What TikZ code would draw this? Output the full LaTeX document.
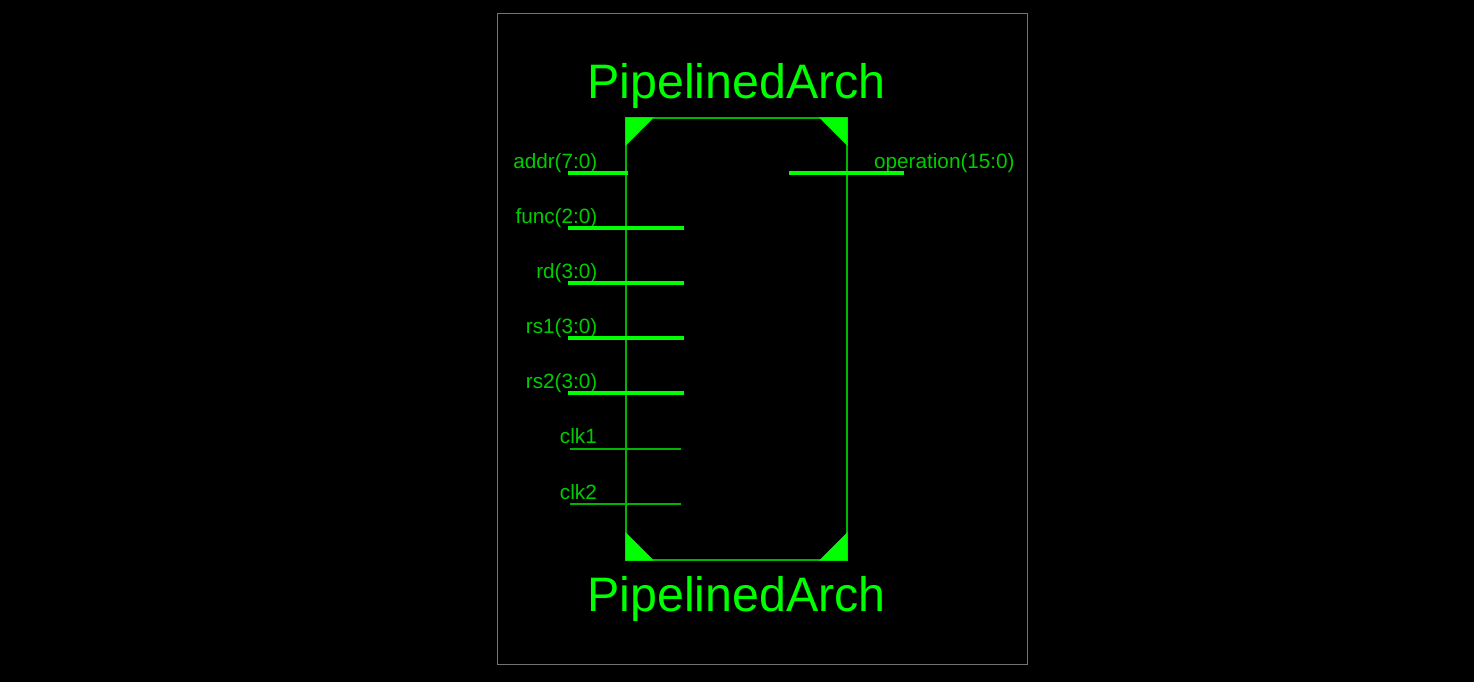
\documentclass[tikz,border=0pt]{standalone}
\usepackage{fontspec}
\setmainfont{Liberation Sans}
\definecolor{bright}{RGB}{0,255,0}
\definecolor{labelg}{RGB}{0,205,0}
\definecolor{edgeg}{RGB}{0,180,0}
\definecolor{frameg}{RGB}{115,115,115}
\tikzset{
  frame/.style={draw=frameg,line width=1pt,inner sep=0pt,minimum width=530pt,minimum height=650pt},
  block/.style={draw=edgeg,line width=1.2pt,inner sep=0pt,minimum width=221pt,minimum height=442pt},
  title/.style={text=bright,font=\fontsize{48.4}{50}\selectfont,anchor=base,inner sep=0pt},
  plabel/.style={text=labelg,font=\fontsize{20.7}{22}\selectfont,inner sep=0pt},
  bus/.style={draw=bright,line width=4pt},
  wire/.style={draw=edgeg,line width=1.3pt},
  corner/.style={fill=bright,draw=none}
}
\begin{document}
\begin{tikzpicture}[x=1pt,y=-1pt]
\useasboundingbox[fill=black] (0,0) rectangle (1474,682);
\node[frame] (fr) at (762,339) {};
\node[block] (b) at (736.5,339) {};
\node[title] (t1) at (736.5,99) {PipelinedArch};
\node[title] (t2) at (736.5,611) {PipelinedArch};
\fill[corner] (b.north west) -- ++(28.5,0) -- ++(-28.5,28.5) -- cycle;
\fill[corner] (b.north east) -- ++(-28.5,0) -- ++(28.5,28.5) -- cycle;
\fill[corner] (b.south west) -- ++(28.5,0) -- ++(-28.5,-28.5) -- cycle;
\fill[corner] (b.south east) -- ++(-28.5,0) -- ++(28.5,-28.5) -- cycle;
\node[plabel,anchor=base east] (l1) at (597.5,168) {addr(7:0)};
\node[plabel,anchor=base east] (l2) at (597.5,223) {func(2:0)};
\node[plabel,anchor=base east] (l3) at (597.5,278) {rd(3:0)};
\node[plabel,anchor=base east] (l4) at (597.5,333) {rs1(3:0)};
\node[plabel,anchor=base east] (l5) at (597.5,388) {rs2(3:0)};
\node[plabel,anchor=base east] (l6) at (597,443) {clk1};
\node[plabel,anchor=base east] (l7) at (597,499) {clk2};
\node[plabel,anchor=base west] (l8) at (874,168) {operation(15:0)};
\coordinate (a1) at (568,173); \coordinate (a2) at (627.5,173);
\coordinate (f1) at (568,228); \coordinate (f2) at (684,228);
\coordinate (r1) at (568,283); \coordinate (r2) at (684,283);
\coordinate (s1) at (568,338); \coordinate (s2) at (684,338);
\coordinate (u1) at (568,393); \coordinate (u2) at (684,393);
\coordinate (c1) at (570,449); \coordinate (c2) at (681,449);
\coordinate (d1) at (570,504); \coordinate (d2) at (681,504);
\coordinate (o1) at (789,173); \coordinate (o2) at (904,173);
\draw[bus] (a1) -- (a2);
\draw[bus] (f1) -- (f2);
\draw[bus] (r1) -- (r2);
\draw[bus] (s1) -- (s2);
\draw[bus] (u1) -- (u2);
\draw[wire] (c1) -- (c2);
\draw[wire] (d1) -- (d2);
\draw[bus] (o1) -- (o2);
\end{tikzpicture}
\end{document}
